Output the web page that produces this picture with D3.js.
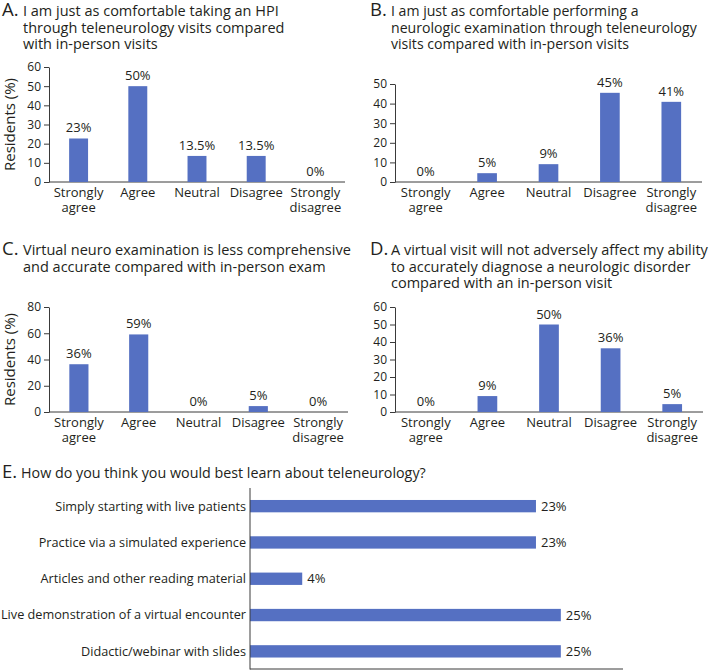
<!DOCTYPE html>
<html>
<head>
<meta charset="utf-8">
<script src="https://cdn.jsdelivr.net/npm/d3@7"></script>
<style>
  body { margin: 0; background: #fff; }
  svg { font-family: "Open Sans", sans-serif; fill: #231f20; }
</style>
</head>
<body>
<svg id="chart" width="710" height="671"></svg>
<script>
// survey categories (likert)
const likertCats = ["Strongly agree", "Agree", "Neutral", "Disagree", "Strongly disagree"];

// A - HPI
const hpiValues = [22.7, 50, 13.6, 13.6, 0];
const hpiLabels = ["23%", "50%", "13.5%", "13.5%", "0%"];
const hpiTicks = [0, 10, 20, 30, 40, 50, 60];

// B - neurologic exam
const examValues = [0, 4.5, 9.1, 45.5, 40.9];
const examLabels = ["0%", "5%", "9%", "45%", "41%"];
const examTicks = [0, 10, 20, 30, 40, 50];

// C - less comprehensive
const virtualValues = [36.4, 59.1, 0, 4.5, 0];
const virtualLabels = ["36%", "59%", "0%", "5%", "0%"];
const virtualTicks = [0, 20, 40, 60, 80];

// D - diagnose
const diagnoseValues = [0, 9.1, 50, 36.4, 4.5];
const diagnoseLabels = ["0%", "9%", "50%", "36%", "5%"];
const diagnoseTicks = [0, 10, 20, 30, 40, 50, 60];

// E - learning
const learnCats = ["Simply starting with live patients", "Practice via a simulated experience",
  "Articles and other reading material", "Live demonstration of a virtual encounter",
  "Didactic/webinar with slides"];
const learnValues = [23, 23, 4.2, 25, 25];
const learnLabels = ["23%", "23%", "4%", "25%", "25%"];

const barColor = "#5570c2";
const axisColor = "#3a3a3a";

const svg = d3.select("#chart");

function drawTitle(letter, lines, x, y, size) {
    svg.append("text").attr("x", x).attr("y", y)
        .style("font-size", "18.5px").text(letter);
    lines.forEach((line, i) => {
        svg.append("text").attr("x", x + 21).attr("y", y + i * 16.6)
            .style("font-size", size + "px").text(line);
    });
}

function drawColumns(opt) {
    const g = svg.append("g");
    const x = d3.scaleBand().domain(likertCats).range([opt.x0, opt.x1])
        .paddingInner(0.68).paddingOuter(0.34);
    const y = d3.scaleLinear().domain([0, d3.max(opt.ticks)]).range([opt.y0, opt.yTop]);

    const yAxis = g.append("g").attr("transform", `translate(${opt.x0},0)`)
        .call(d3.axisLeft(y).tickValues(opt.ticks).tickSize(5).tickSizeOuter(0).tickPadding(3));
    yAxis.select(".domain").attr("stroke", axisColor);
    yAxis.selectAll(".tick line").attr("stroke", axisColor);
    yAxis.selectAll(".tick text").attr("fill", "#231f20")
        .style("font-size", "12px").style("font-family", "Open Sans, sans-serif");

    g.append("line").attr("x1", opt.x0).attr("x2", opt.x1)
        .attr("y1", opt.y0).attr("y2", opt.y0).attr("stroke", axisColor);

    g.selectAll("rect.bar").data(opt.values).enter().append("rect")
        .attr("class", "bar")
        .attr("x", (d, i) => x(likertCats[i]))
        .attr("width", x.bandwidth())
        .attr("y", d => y(d))
        .attr("height", d => y(0) - y(d))
        .attr("fill", barColor);

    g.selectAll("text.val").data(opt.values).enter().append("text")
        .attr("class", "val")
        .attr("x", (d, i) => x(likertCats[i]) + x.bandwidth() / 2)
        .attr("y", d => y(d) - 6)
        .attr("text-anchor", "middle")
        .style("font-size", "13px")
        .text((d, i) => opt.labels[i]);

    likertCats.forEach(c => {
        const words = c.split(" ");
        const t = g.append("text").attr("text-anchor", "middle").style("font-size", "13px");
        words.forEach((w, j) => {
            t.append("tspan").attr("x", x(c) + x.bandwidth() / 2)
                .attr("y", opt.y0 + 15 + j * 14.5).text(w);
        });
    });

    if (opt.yLabel) {
        g.append("text")
            .attr("transform", `translate(15,${(opt.y0 + opt.yTop) / 2}) rotate(-90)`)
            .attr("text-anchor", "middle")
            .style("font-size", "15px")
            .text(opt.yLabel);
    }
}

drawTitle("A.", ["I am just as comfortable taking an HPI", "through teleneurology visits compared",
    "with in-person visits"], 2, 16, 14.5);
drawColumns({ values: hpiValues, labels: hpiLabels, ticks: hpiTicks,
    x0: 49, x1: 345, y0: 182, yTop: 67, yLabel: "Residents (%)" });

drawTitle("B.", ["I am just as comfortable performing a", "neurologic examination through teleneurology",
    "visits compared with in-person visits"], 370, 16, 14.1);
drawColumns({ values: examValues, labels: examLabels, ticks: examTicks,
    x0: 395, x1: 702, y0: 182, yTop: 84 });

drawTitle("C.", ["Virtual neuro examination is less comprehensive",
    "and accurate compared with in-person exam"], 2, 255, 14.5);
drawColumns({ values: virtualValues, labels: virtualLabels, ticks: virtualTicks,
    x0: 49, x1: 348, y0: 412, yTop: 307, yLabel: "Residents (%)" });

drawTitle("D.", ["A virtual visit will not adversely affect my ability",
    "to accurately diagnose a neurologic disorder", "compared with an in-person visit"], 370, 255, 14.5);
drawColumns({ values: diagnoseValues, labels: diagnoseLabels, ticks: diagnoseTicks,
    x0: 395, x1: 703, y0: 412, yTop: 307 });

// E - horizontal bars
svg.append("text").attr("x", 2).attr("y", 478).style("font-size", "18.5px").text("E.");
svg.append("text").attr("x", 21).attr("y", 478).style("font-size", "14.3px")
    .text("How do you think you would best learn about teleneurology?");

const ex = d3.scaleLinear().domain([0, 30]).range([250, 623]);
const ey = d3.scaleBand().domain(learnCats).range([488, 669.5])
    .paddingInner(0.66).paddingOuter(0.33);
const eg = svg.append("g");

eg.selectAll("rect").data(learnValues).enter().append("rect")
    .attr("x", ex(0))
    .attr("y", (d, i) => ey(learnCats[i]))
    .attr("width", d => ex(d) - ex(0))
    .attr("height", ey.bandwidth())
    .attr("fill", barColor);

eg.selectAll("text.val").data(learnValues).enter().append("text")
    .attr("class", "val")
    .attr("x", d => ex(d) + 5)
    .attr("y", (d, i) => ey(learnCats[i]) + ey.bandwidth() / 2)
    .attr("dy", "0.35em")
    .style("font-size", "13px")
    .text((d, i) => learnLabels[i]);

eg.selectAll("text.cat").data(learnCats).enter().append("text")
    .attr("class", "cat")
    .attr("x", ex(0) - 4)
    .attr("y", d => ey(d) + ey.bandwidth() / 2)
    .attr("dy", "0.35em")
    .attr("text-anchor", "end")
    .style("font-size", "12.7px")
    .text(d => d);

eg.append("line").attr("x1", ex(0)).attr("x2", ex(0)).attr("y1", 488).attr("y2", 669.5)
    .attr("stroke", axisColor);
eg.append("line").attr("x1", ex(0)).attr("x2", ex(30)).attr("y1", 669).attr("y2", 669)
    .attr("stroke", axisColor);
</script>
</body>
</html>
